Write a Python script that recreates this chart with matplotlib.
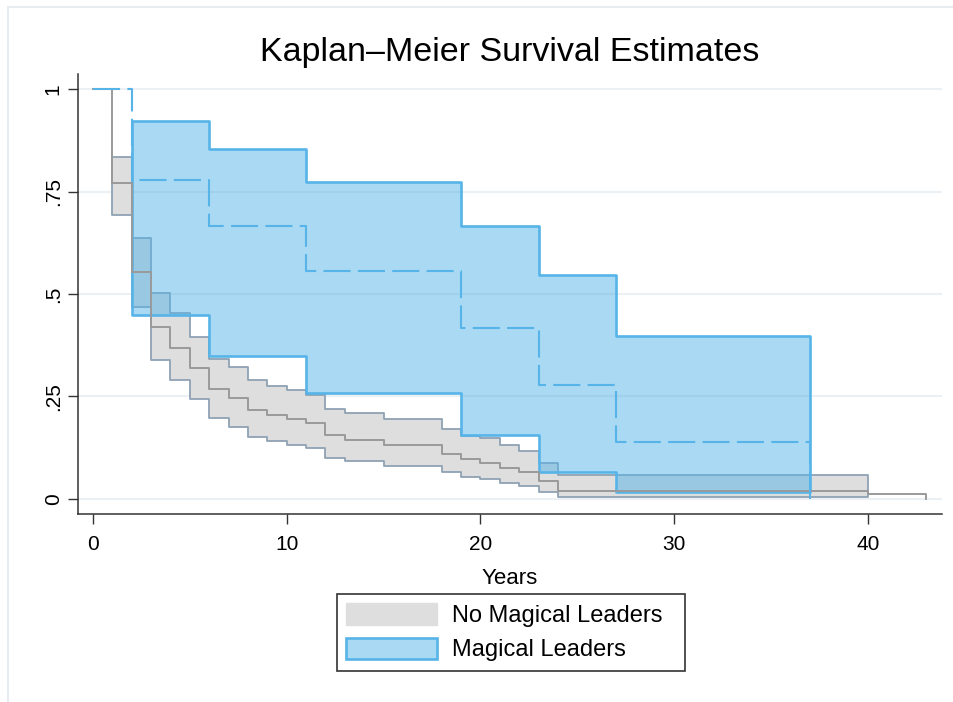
import matplotlib
matplotlib.use("Agg")
import matplotlib.pyplot as plt
from matplotlib.patches import Patch, Rectangle

plt.rcParams['font.family'] = ['Liberation Sans', 'DejaVu Sans']

# No Magical Leaders: KM estimate and 95% CI
t_no = [0, 1, 2, 3, 4, 5, 6, 7, 8, 9, 10, 11, 12, 13, 15, 18, 19, 20, 21, 22, 23, 24, 40, 43]
s_no = [1.0, 0.771, 0.554, 0.42, 0.368, 0.32, 0.268, 0.246, 0.217, 0.205, 0.195, 0.185,
        0.156, 0.144, 0.132, 0.110, 0.098, 0.088, 0.076, 0.066, 0.044, 0.0195, 0.012, 0.0]
t_no_ci = [1, 2, 3, 4, 5, 6, 7, 8, 9, 10, 11, 12, 13, 15, 18, 19, 20, 21, 22, 23, 24, 40]
up_no = [0.834, 0.636, 0.502, 0.454, 0.395, 0.341, 0.322, 0.290, 0.276, 0.266, 0.254,
         0.220, 0.210, 0.195, 0.171, 0.154, 0.149, 0.132, 0.117, 0.088, 0.059, 0.059]
lo_no = [0.693, 0.468, 0.339, 0.290, 0.244, 0.198, 0.176, 0.151, 0.141, 0.132, 0.124,
         0.100, 0.093, 0.080, 0.066, 0.054, 0.049, 0.039, 0.032, 0.017, 0.004, 0.004]

# Magical Leaders
t_mag = [0, 2, 6, 11, 19, 23, 27, 37]
s_mag = [1.0, 0.778, 0.667, 0.556, 0.417, 0.278, 0.139, 0.0]
t_mag_ci = [2, 6, 11, 19, 23, 27, 37]
up_mag = [0.922, 0.854, 0.773, 0.666, 0.546, 0.398, 0.398]
lo_mag = [0.449, 0.349, 0.259, 0.156, 0.066, 0.017, 0.017]

gray_fill = '#dedede'
gray_edge = '#8fa2b4'
gray_line = '#9a9a9a'
blue = '#56B4E9'
blue_fill = (86 / 255, 180 / 255, 233 / 255, 0.5)

fig = plt.figure(figsize=(9.54, 7.02), dpi=100)
ax = fig.add_axes([78 / 954, 1 - 514 / 702, 864 / 954, 440 / 702])

# CI bands
ax.fill_between(t_no_ci, lo_no, up_no, step='post', facecolor=gray_fill,
                edgecolor=gray_edge, linewidth=1.3, zorder=2)
ax.fill_between(t_mag_ci, lo_mag, up_mag, step='post', facecolor=blue_fill,
                edgecolor=blue, linewidth=1.9, zorder=3)

# survival curves
ax.step(t_no, s_no, where='post', color=gray_line, linewidth=1.4, zorder=4)
ax.step(t_mag, s_mag, where='post', color=blue, linewidth=1.5,
        linestyle=(0, (13, 3.5)), zorder=5)

ax.set_xlim(-0.774, 43.82)
ax.set_ylim(-0.0366, 1.0366)
ax.set_xticks([0, 10, 20, 30, 40])
ax.set_yticks([0, 0.25, 0.5, 0.75, 1])
ax.set_yticklabels(['0', '.25', '.5', '.75', '1'], rotation=90, va='center')
ax.tick_params(axis='both', length=7, width=1.0, color='#333333', labelsize=15)
ax.tick_params(axis='y', pad=4)
ax.tick_params(axis='x', pad=8)

ax.yaxis.grid(True, color='#eaf0f3', linewidth=1.5)
ax.set_axisbelow(True)
for side in ['top', 'right']:
    ax.spines[side].set_visible(False)
for side in ['left', 'bottom']:
    ax.spines[side].set_color('#333333')
    ax.spines[side].set_linewidth(1.1)

ax.set_xlabel('Years', fontsize=16, labelpad=10)
ax.set_title('Kaplan\u2013Meier Survival Estimates', fontsize=24.5, pad=9)

handles = [Patch(facecolor=gray_fill, edgecolor=gray_fill, label='No Magical Leaders  '),
           Patch(facecolor=blue_fill, edgecolor=blue, linewidth=1.9, label='Magical Leaders')]
leg = fig.legend(handles=handles, loc='upper center', bbox_to_anchor=(511 / 954, 1 - 594 / 702),
                 bbox_transform=fig.transFigure, fontsize=17, frameon=True, fancybox=False,
                 framealpha=1, edgecolor='#333333', handlelength=3.85, handleheight=1.0,
                 handletextpad=0.64, labelspacing=0.45, borderpad=0.4, borderaxespad=0)
leg.get_frame().set_linewidth(1.2)

# faint outer frame
fig.add_artist(Rectangle((8 / 954, -0.05), 1.0, 1.05 - 7 / 702, transform=fig.transFigure,
                         fill=False, edgecolor='#e6ecef', linewidth=1.5))

fig.savefig('out.png', dpi=100)
